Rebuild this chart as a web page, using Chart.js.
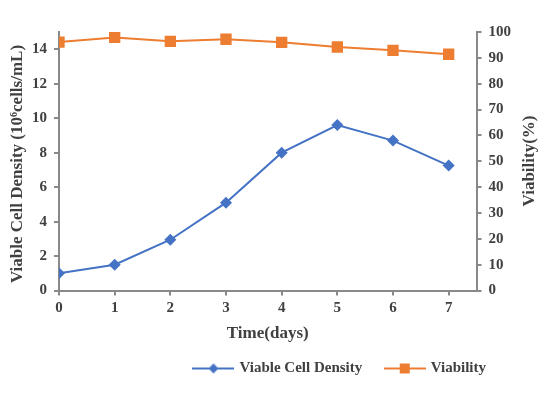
<!DOCTYPE html>
<html>
<head>
<meta charset="utf-8">
<script src="https://cdn.jsdelivr.net/npm/chart.js@4"></script>
<style>
  html, body { margin: 0; padding: 0; background: #fff; }
  #wrap { width: 542px; height: 395px; position: relative; }
</style>
</head>
<body>
<div id="wrap"><canvas id="chart"></canvas></div>
<script>
// Data
const days = [0, 1, 2, 3, 4, 5, 6, 7];
const cellDensity = [1.0, 1.5, 2.95, 5.1, 8.0, 9.6, 8.7, 7.25];
const viability = [96.1, 97.9, 96.4, 97.2, 96.0, 94.2, 92.9, 91.4];
const xTicks = [0, 1, 2, 3, 4, 5, 6, 7];
const leftTicks = [0, 2, 4, 6, 8, 10, 12, 14];
const rightTicks = [0, 10, 20, 30, 40, 50, 60, 70, 80, 90, 100];

const BLUE = '#4472C4';
const ORANGE = '#ED7D31';
const TEXT = '#404040';
const AXIS = '#898989';
const FONT = '"Liberation Serif", "Times New Roman", serif';

// legend icon: short line with the marker in the middle
function legendIcon(color, style) {
  const c = document.createElement('canvas');
  c.width = 42; c.height = 14;
  const ctx = c.getContext('2d');
  ctx.strokeStyle = color;
  ctx.lineWidth = 2;
  ctx.beginPath();
  ctx.moveTo(0, 7); ctx.lineTo(42, 7);
  ctx.stroke();
  ctx.fillStyle = color;
  if (style === 'diamond') {
    ctx.beginPath();
    ctx.moveTo(21, 2); ctx.lineTo(26, 7); ctx.lineTo(21, 12); ctx.lineTo(16, 7);
    ctx.closePath(); ctx.fill();
  } else {
    ctx.fillRect(16, 2, 10, 10);
  }
  return c;
}

// both axis titles read bottom-to-top, drawn by hand
const axisTitles = {
  id: 'axisTitles',
  afterLayout(chart) {
    // legend sits right of centre in the original
    chart.legend.left += 138;
  },
  afterDraw(chart) {
    const { ctx } = chart;
    const draw = (text, x, y) => {
      ctx.save();
      ctx.translate(x, y);
      ctx.rotate(-Math.PI / 2);
      ctx.font = 'bold 17px ' + FONT;
      ctx.fillStyle = TEXT;
      ctx.textAlign = 'center';
      ctx.textBaseline = 'middle';
      ctx.fillText(text, 0, 0);
      ctx.restore();
    };
    draw('Viable Cell Density (10\u2076cells/mL)', 18, 164);
    draw('Viability(%)', 530, 161);
  }
};

const tickFont = { family: FONT, size: 15, weight: 'bold' };
const titleFont = { family: FONT, size: 17, weight: 'bold' };

new Chart(document.getElementById('chart'), {
  type: 'line',
  data: {
    datasets: [
      {
        label: 'Viable Cell Density',
        data: days.map((d, i) => ({ x: d, y: cellDensity[i] })),
        borderColor: BLUE,
        backgroundColor: BLUE,
        borderWidth: 2,
        pointStyle: 'rectRot',
        pointRadius: 6,
        pointBorderWidth: 0,
        yAxisID: 'y',
        tension: 0
      },
      {
        label: 'Viability',
        data: days.map((d, i) => ({ x: d, y: viability[i] })),
        borderColor: ORANGE,
        backgroundColor: ORANGE,
        borderWidth: 2,
        pointStyle: 'rect',
        pointRadius: 8,
        pointBorderWidth: 0,
        yAxisID: 'y2',
        tension: 0
      }
    ]
  },
  options: {
    responsive: true,
    maintainAspectRatio: false,
    animation: false,
    layout: { padding: { left: 25, right: 24, top: 32, bottom: 9 } },
    plugins: {
      tooltip: { enabled: false },
      legend: {
        position: 'bottom',
        labels: {
          usePointStyle: true,
          pointStyleWidth: 37,
          color: TEXT,
          font: { family: FONT, size: 15, weight: 'bold' },
          padding: 24,
          boxHeight: 14,
          generateLabels: chart => chart.data.datasets.map((ds, i) => ({
            text: ds.label,
            fontColor: TEXT,
            pointStyle: legendIcon(ds.borderColor, i === 0 ? 'diamond' : 'square'),
            datasetIndex: i,
            lineWidth: 0
          }))
        }
      }
    },
    scales: {
      x: {
        type: 'linear',
        min: 0,
        max: 7.5,
        afterBuildTicks: s => { s.ticks = xTicks.map(v => ({ value: v })); },
        grid: { display: true, drawOnChartArea: false, drawTicks: true, tickLength: 5, color: AXIS, lineWidth: 2 },
        border: { color: AXIS, width: 2 },
        ticks: { color: TEXT, font: tickFont, padding: 4 },
        title: { display: true, text: 'Time(days)', color: TEXT, font: titleFont, padding: { top: 2, bottom: -7 } }
      },
      y: {
        position: 'left',
        min: 0,
        max: 15,
        afterBuildTicks: s => { s.ticks = leftTicks.map(v => ({ value: v })); },
        grid: { display: true, drawOnChartArea: false, drawTicks: true, tickLength: 5, color: AXIS, lineWidth: 2 },
        border: { color: AXIS, width: 2 },
        ticks: { color: TEXT, font: tickFont, padding: 7 }
      },
      y2: {
        position: 'right',
        min: 0,
        max: 100,
        afterBuildTicks: s => { s.ticks = rightTicks.map(v => ({ value: v })); },
        grid: { display: true, drawOnChartArea: false, drawTicks: true, tickLength: 5, color: AXIS, lineWidth: 2 },
        border: { color: AXIS, width: 2 },
        ticks: { color: TEXT, font: tickFont, padding: 7 }
      }
    }
  },
  plugins: [axisTitles]
});
</script>
</body>
</html>
